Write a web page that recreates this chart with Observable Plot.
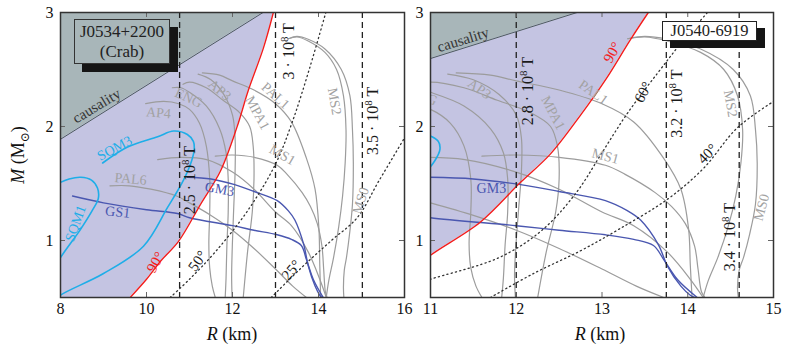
<!DOCTYPE html>
<html><head><meta charset="utf-8">
<script src="https://cdn.jsdelivr.net/npm/d3@7"></script>
<script src="https://cdn.jsdelivr.net/npm/@observablehq/plot@0.6"></script>
<style>
body{margin:0;background:#fff;font-family:"Liberation Serif","Times New Roman","DejaVu Serif",serif;}
#wrap{position:relative;width:789px;height:354px;overflow:hidden;background:#fff}
#wrap svg{position:absolute;top:0;overflow:visible}
.lab{position:absolute;font-size:18px;color:#111;white-space:nowrap;line-height:21px}
.box{position:absolute;box-sizing:border-box;text-align:center;color:#222;font-size:17px}
</style></head><body><div id="wrap"></div>
<script>
// ---- data (R in km, M in solar masses) ----
const yDomain = [0.5, 3];
const yTicks = [1, 2, 3];
const leftXDomain = [8, 16];
const leftXTicks = [8, 10, 12, 14, 16];
const rightXDomain = [11, 15];
const rightXTicks = [11, 12, 13, 14, 15];

const causality = [[8, 1.888], [12.71, 3.0]];

const AP4 = [[9.98,2.2],[10.4,2.22],[10.75,2.2],[11.0,2.15],[11.23,2.03],[11.39,1.83],[11.47,1.54],[11.47,1.25],[11.45,0.97],[11.47,0.76],[11.53,0.6],[11.6,0.5]];
const ENG = [[10.6,2.34],[10.8,2.34],[11.0,2.3],[11.39,2.18],[11.7,1.98],[11.85,1.77],[11.9,1.54],[11.9,1.25],[11.87,0.96],[11.85,0.67],[11.83,0.5]];
const AP3 = [[11.2,2.46],[11.5,2.41],[11.8,2.28],[12.0,2.1],[12.06,1.9],[12.06,1.6],[12.03,1.3],[12.0,1.0],[11.98,0.7],[11.99,0.5]];
const MPA1 = [[10.85,2.37],[11.0,2.39],[11.39,2.34],[11.78,2.23],[12.17,2.12],[12.4,2.0],[12.48,1.83],[12.5,1.54],[12.46,1.25],[12.35,0.9],[12.25,0.5]];
const PAL1 = [[11.3,2.47],[11.7,2.45],[12.0,2.4],[12.5,2.32],[13.0,2.2],[13.37,2.04],[13.72,1.72],[13.92,1.45],[14.01,1.1],[14.03,0.78],[14.05,0.5]];
const MS1 = [[11.6,1.74],[12.0,1.75],[12.5,1.73],[13.04,1.66],[13.27,1.58],[13.62,1.42],[13.81,1.3],[13.97,1.15],[14.08,0.95],[14.12,0.75],[14.16,0.55],[14.2,0.5]];
const MS1b = [[10.26,1.71],[10.8,1.73],[11.4,1.71],[12.0,1.6],[12.5,1.45],[13.0,1.25],[13.37,1.13],[13.76,0.9],[14.03,0.66],[14.18,0.5]];
const MS2 = [[13.3,2.77],[13.5,2.785],[13.76,2.75],[14.15,2.65],[14.42,2.5],[14.58,2.27],[14.64,1.97],[14.62,1.68],[14.56,1.39],[14.47,1.12],[14.35,0.85],[14.24,0.65],[14.18,0.5]];
const MS0 = [[13.3,2.77],[13.5,2.79],[13.76,2.765],[14.15,2.68],[14.53,2.5],[14.73,2.27],[14.79,1.97],[14.81,1.68],[14.79,1.32],[14.72,1.05],[14.65,0.85],[14.6,0.74],[14.58,0.59],[14.59,0.5]];
const PAL6 = [[9.15,1.48],[9.6,1.48],[10.1,1.45],[10.7,1.39],[11.0,1.33],[11.5,1.22],[12.0,1.09],[12.5,0.93],[13.0,0.75],[13.4,0.6],[13.72,0.5]];
const GS1 = [[8.28,1.39],[9.0,1.33],[10.0,1.27],[10.72,1.237],[11.0,1.2],[12.0,1.13],[12.5,1.09],[13.04,1.05],[13.37,1.01],[13.6,0.956],[13.72,0.833],[13.88,0.658],[14.11,0.5]];
const GM3 = [[10.95,1.555],[11.5,1.54],[12.05,1.49],[12.5,1.43],[13.04,1.35],[13.3,1.26],[13.45,1.18],[13.66,0.96],[13.76,0.78],[13.92,0.6],[14.03,0.52],[14.08,0.5]];
const SQM1 = [[7.8,0.72],[8.0,0.85],[8.47,1.1],[8.75,1.27],[8.88,1.37],[8.86,1.46],[8.72,1.53],[8.47,1.555],[8.2,1.54],[8.0,1.51],[7.8,1.46]];
const SQM3 = [[7.9,0.48],[8.0,0.52],[9.0,0.71],[9.93,0.95],[10.49,1.29],[10.86,1.53],[11.05,1.7],[11.11,1.8],[11.09,1.87],[10.95,1.93],[10.63,1.96],[10.26,1.91],[9.56,1.82],[8.98,1.68]];
const grayCurves = [AP4, ENG, AP3, MPA1, PAL1, MS1, MS1b, MS2, MS0, PAL6];
const blueCurves = [GS1, GM3];
const cyanCurves = [SQM1, SQM3];

// rotation limits (90°) and spin-angle lines
const leftRed = [[9.62,0.5],[10.0,0.66],[10.33,0.82],[10.74,0.99],[11.26,1.32],[11.72,1.61],[12.1,1.99],[12.37,2.32],[12.72,2.69],[12.95,3.0]];
const rightRed = [[10.9,0.8],[11.0,0.87],[11.58,1.16],[12.05,1.51],[12.4,1.76],[12.75,2.1],[13.05,2.42],[13.33,2.76],[13.54,3.0]];
const left50 = [[10.55,0.5],[11.0,0.66],[11.6,0.9],[12.35,1.26],[13.0,1.67],[13.4,2.05],[13.8,2.52],[14.17,3.0]];
const left25 = [[12.9,0.5],[13.6,0.76],[14.3,1.0],[14.9,1.2],[15.4,1.52],[16.0,1.9]];
const right60 = [[10.9,0.63],[11.0,0.66],[11.8,0.85],[12.3,1.09],[12.7,1.42],[13.0,1.77],[13.3,2.12],[13.65,2.47],[13.92,2.73],[14.23,3.0]];
const right40 = [[11.7,0.5],[12.2,0.71],[12.75,0.91],[13.2,1.1],[13.76,1.36],[14.18,1.63],[14.58,1.99],[15.0,2.22]];

// magnetic-field radii
const leftDashR = [10.77, 13.0, 15.02];
const rightDashR = [12.0, 13.75, 14.6];

// annotation texts: [text, R, M, angle]
const leftFieldLabels = [["2.5 · 10^8 T",11.02,1.53,-90],["3 · 10^8 T",13.3,2.66,-90],["3.5 · 10^8 T",15.26,2.05,-90]];
const rightFieldLabels = [["2.8 · 10^8 T",12.14,2.31,-90],["3.2 · 10^8 T",13.87,2.2,-90],["3.4 · 10^8 T",14.49,1.03,-90]];
const leftAngleLabels = [["50°",11.19,0.82,-55],["25°",13.37,0.74,-50]];
const rightAngleLabels = [["60°",13.48,2.3,-62],["40°",14.23,1.76,-45]];
const leftRedLabels = [["90°",10.21,0.81,-60]];
const rightRedLabels = [["90°",13.12,2.65,-60]];
const leftGrayLabels = [["AP4",10.28,2.12,5],["ENG",10.98,2.25,25],["AP3",11.7,2.32,40],["MPA1",12.58,2.12,62],["PAL1",13.0,2.27,42],["MS1",13.16,1.75,30],["MS2",14.37,2.22,80],["MS0",14.98,1.35,-72],["PAL6",9.63,1.54,5]];
const rightGrayLabels = [["ENG",10.92,2.27,25],["AP3",11.57,2.33,35],["MPA1",12.43,2.12,62],["PAL1",12.9,2.3,35],["MS1",13.04,1.74,15],["MS2",14.5,2.2,80],["MS0",14.86,1.29,-75]];
const leftBlueLabels = [["GS1",9.33,1.25,6],["GM3",11.7,1.45,10]];
const rightBlueLabels = [["GM3",11.71,1.46,0]];
const leftCyanLabels = [["SQM3",9.26,1.81,-28],["SQM1",8.35,1.15,-70]];
const rightCyanLabels = [];
const leftCausalityLabel = [["causality",8.84,2.18,-31]];
const rightCausalityLabel = [["causality",11.38,2.76,-17]];

// ---- drawing ----
const FONT = "'Liberation Serif', 'Times New Roman', 'DejaVu Serif', serif";
const H = 354, MT = 12, MB = 57, plotH = H - MT - MB;
const C = {purple:"#c4c4e2", teal:"#a8b6b9", causal:"#4d5a5e", gray:"#9c9c9c", grayText:"#a2a2a2",
  blue:"#4a57b0", cyan:"#1eaee8", red:"#f21d1d", ink:"#1a1a1a"};
const X = d => d[0], Y = d => d[1], T = d => d[0], LX = d => d[1], LY = d => d[2], LR = d => d[3];

function labels(arr, fill, size) {
  return Plot.text(arr, {x: LX, y: LY, text: T, rotate: LR, fill, fontSize: size, clip: true});
}

function panel(cfg) {
  const plotW = cfg.width - cfg.mL - cfg.mR;
  const line = (d, stroke, w, extra={}) => Plot.line(d, {x: X, y: Y, stroke, strokeWidth: w, curve: "catmull-rom", clip: true, ...extra});
  const marks = [
    Plot.areaX(cfg.red, {y: Y, x1: cfg.xDomain[0], x2: X, fill: C.purple, curve: "catmull-rom", clip: true}),
    Plot.areaY(causality, {x: X, y1: Y, y2: yDomain[1], fill: C.teal, clip: true}),
    line(causality, C.causal, 1),
    ...grayCurves.map(c => line(c, C.gray, 1.2)),
    ...blueCurves.map(c => line(c, C.blue, 1.4)),
    ...cyanCurves.map(c => line(c, C.cyan, 1.6)),
    line(cfg.red, C.red, 1.4),
    ...cfg.dots.map(c => line(c, "#333", 1.3, {strokeDasharray: "1.2,3.2", strokeLinecap: "round"})),
    Plot.ruleX(cfg.dashR, {x: d => d, stroke: "#222", strokeWidth: 1.3, strokeDasharray: "6,4"}),
    labels(cfg.causalityLabel, "#333", 15),
    labels(cfg.grayLabels, C.grayText, 14),
    labels(cfg.blueLabels, C.blue, 14),
    labels(cfg.cyanLabels, C.cyan, 14),
    labels(cfg.angleLabels, C.ink, 15),
    labels(cfg.redLabels, C.red, 15),
    labels(cfg.fieldLabels, C.ink, 16),
    Plot.tickX(cfg.xTicks, {x: d => d, insetTop: plotH - 5, stroke: "#666"}),
    Plot.tickX(cfg.xTicks, {x: d => d, insetBottom: plotH - 5, stroke: "#666"}),
    Plot.tickY(yTicks, {y: d => d, insetRight: plotW - 5, stroke: "#666"}),
    Plot.tickY(yTicks, {y: d => d, insetLeft: plotW - 5, stroke: "#666"}),
    Plot.axisX({ticks: cfg.xTicks, tickFormat: d => String(d), tickSize: 0, tickPadding: 5, label: null, fontSize: 16}),
    Plot.axisY({ticks: yTicks, tickFormat: d => String(d), tickSize: 0, tickPadding: 7, label: null, fontSize: 16}),
    Plot.frame({stroke: "#333", strokeWidth: 1.5})
  ];
  const svg = Plot.plot({
    width: cfg.width, height: H, marginLeft: cfg.mL, marginRight: cfg.mR, marginTop: MT, marginBottom: MB,
    x: {domain: cfg.xDomain}, y: {domain: yDomain},
    style: {fontFamily: FONT, fontSize: "16px", color: "#111", background: "transparent", overflow: "visible"},
    marks
  });
  svg.querySelectorAll("text").forEach(t => {
    const s = t.textContent;
    if (s.includes("^8")) {
      const [a, b] = s.split("^8");
      t.textContent = "";
      const ns = "http://www.w3.org/2000/svg";
      const t1 = document.createElementNS(ns, "tspan"); t1.textContent = a;
      const t2 = document.createElementNS(ns, "tspan"); t2.textContent = "8"; t2.setAttribute("dy", "-6"); t2.setAttribute("font-size", "11");
      const t3 = document.createElementNS(ns, "tspan"); t3.textContent = b; t3.setAttribute("dy", "6");
      t.append(t1, t2, t3);
    }
  });
  svg.style.left = cfg.left + "px";
  return svg;
}

const wrap = document.getElementById("wrap");
wrap.append(panel({left: 0, width: 415, mL: 60, mR: 11, xDomain: leftXDomain, xTicks: leftXTicks, red: leftRed,
  dots: [left50, left25], dashR: leftDashR, fieldLabels: leftFieldLabels, angleLabels: leftAngleLabels, redLabels: leftRedLabels,
  grayLabels: leftGrayLabels, blueLabels: leftBlueLabels, cyanLabels: leftCyanLabels, causalityLabel: leftCausalityLabel}));
wrap.append(panel({left: 415, width: 374, mL: 15, mR: 16, xDomain: rightXDomain, xTicks: rightXTicks, red: rightRed,
  dots: [right60, right40], dashR: rightDashR, fieldLabels: rightFieldLabels, angleLabels: rightAngleLabels, redLabels: rightRedLabels,
  grayLabels: rightGrayLabels, blueLabels: rightBlueLabels, cyanLabels: rightCyanLabels, causalityLabel: rightCausalityLabel}));

// axis titles and pulsar boxes
function div(cls, html, css) { const d = document.createElement("div"); d.className = cls; d.innerHTML = html; Object.assign(d.style, css); wrap.append(d); }
div("lab", "<i>M</i> (M<sub style='font-size:12px'>⊙</sub>)", {left: "22px", top: "155px", transform: "translate(-50%,-50%) rotate(-90deg)"});
div("lab", "<i>R</i> (km)", {left: "232px", top: "324px", transform: "translateX(-50%)"});
div("lab", "<i>R</i> (km)", {left: "600px", top: "324px", transform: "translateX(-50%)"});
div("box", "J0534+2200<br>(Crab)", {left: "74px", top: "19px", width: "96px", height: "45px", lineHeight: "20px", paddingTop: "2px",
  border: "1.3px solid #333", boxShadow: "8px 8px 0 #151515"});
div("box", "J0540-6919", {left: "662px", top: "21px", width: "95px", height: "20px", lineHeight: "18px", fontSize: "16.5px",
  background: "#fff", border: "1px solid #222", boxShadow: "8px 7px 0 #151515"});
</script></body></html>
